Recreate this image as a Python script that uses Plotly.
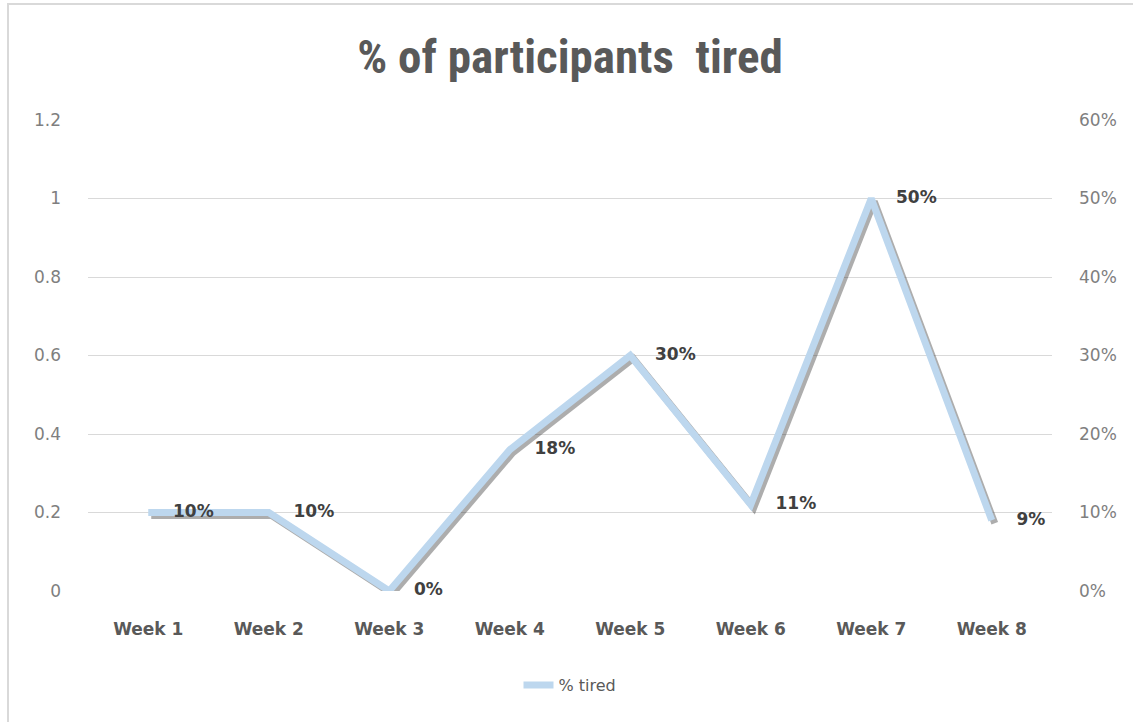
import plotly.graph_objects as go

weeks = ["Week 1", "Week 2", "Week 3", "Week 4", "Week 5", "Week 6", "Week 7", "Week 8"]
pct_tired = [0.10, 0.10, 0.00, 0.18, 0.30, 0.11, 0.50, 0.09]
series_name = "% tired"
title_text = "% of participants  tired"

W, H = 1133, 722
ML, MR, MT, MB = 88, 81, 120, 131
PW, PH = W - ML - MR, H - MT - MB

# shadow offset in pixels
SDX, SDY = 3, 3
x_shift = SDX / PW * 8.0
y_shift = SDY / PH * 0.6

fig = go.Figure()

# invisible traces to anchor the primary and secondary axes
fig.add_trace(go.Scatter(x=weeks, y=[None] * len(weeks), xaxis="x", yaxis="y", mode="lines",
                         showlegend=False, hoverinfo="skip"))
fig.add_trace(go.Scatter(x=weeks, y=[None] * len(weeks), xaxis="x", yaxis="y2", mode="lines",
                         showlegend=False, hoverinfo="skip"))

# shadow of the line
fig.add_trace(go.Scatter(
    x=weeks, y=pct_tired, xaxis="x2", yaxis="y3", mode="lines",
    line=dict(color="rgba(40,40,40,0.38)", width=7),
    showlegend=False, hoverinfo="skip",
))

# main line (same scale as right axis)
fig.add_trace(go.Scatter(
    x=weeks, y=pct_tired, xaxis="x3", yaxis="y4", mode="lines+markers+text",
    name=series_name,
    line=dict(color="#BDD7EE", width=7),
    marker=dict(size=38, color="rgba(0,0,0,0)"),
    texttemplate="%{y:.0%}", textposition="middle right",
    textfont=dict(family="DejaVu Sans", size=17, color="#404040", weight="bold"),
    cliponaxis=False,
))

grid = "#D9D9D9"
tick_font = dict(family="DejaVu Sans", size=17, color="#7F7F7F")

fig.update_layout(
    width=W, height=H,
    margin=dict(l=ML, r=MR, t=MT, b=MB),
    paper_bgcolor="white", plot_bgcolor="white",
    title=dict(text=title_text, x=0.5, xanchor="center", xref="paper",
               y=1 - 57 / H, yanchor="middle", yref="container",
               font=dict(family="Liberation Sans Narrow, Roboto Condensed, Roboto", size=47,
                         color="#595959", weight="bold")),
    xaxis=dict(type="category", range=[-0.5, 7.5], showgrid=False, zeroline=False,
               showline=False, ticks="", ticklabelstandoff=26,
               tickfont=dict(family="DejaVu Sans", size=17, color="#595959", weight="bold")),
    xaxis2=dict(type="category", overlaying="x", range=[-0.5 - x_shift, 7.5 - x_shift],
                visible=False),
    xaxis3=dict(type="category", overlaying="x", range=[-0.5, 7.5], visible=False),
    yaxis=dict(range=[0, 1.2], dtick=0.2, tick0=0, showgrid=True, gridcolor=grid, gridwidth=1,
               zeroline=False, showline=False, ticks="", ticklabelstandoff=26,
               tickfont=tick_font),
    yaxis2=dict(range=[0, 0.6], dtick=0.1, tick0=0, overlaying="y", side="right",
                tickformat=".0%", showgrid=False, zeroline=False, showline=False, ticks="",
                ticklabelstandoff=26, tickfont=tick_font),
    yaxis3=dict(range=[y_shift, 0.6 + y_shift], overlaying="y", visible=False),
    yaxis4=dict(range=[0, 0.6], overlaying="y", visible=False),
    legend=dict(orientation="h", x=0.5, xanchor="center", y=-(685 - (MT + PH)) / PH,
                yanchor="middle", font=dict(family="DejaVu Sans", size=16, color="#595959")),
    showlegend=True,
    shapes=[dict(type="rect", xref="paper", yref="paper",
                 x0=(8 - ML) / PW, x1=(W + 10 - ML) / PW,
                 y0=-(H + 10 - MT - PH) / PH, y1=(MT + PH - 4) / PH,
                 line=dict(color="#D9D9D9", width=2), fillcolor="rgba(0,0,0,0)", layer="below")],
)

fig.write_html("out.html")
